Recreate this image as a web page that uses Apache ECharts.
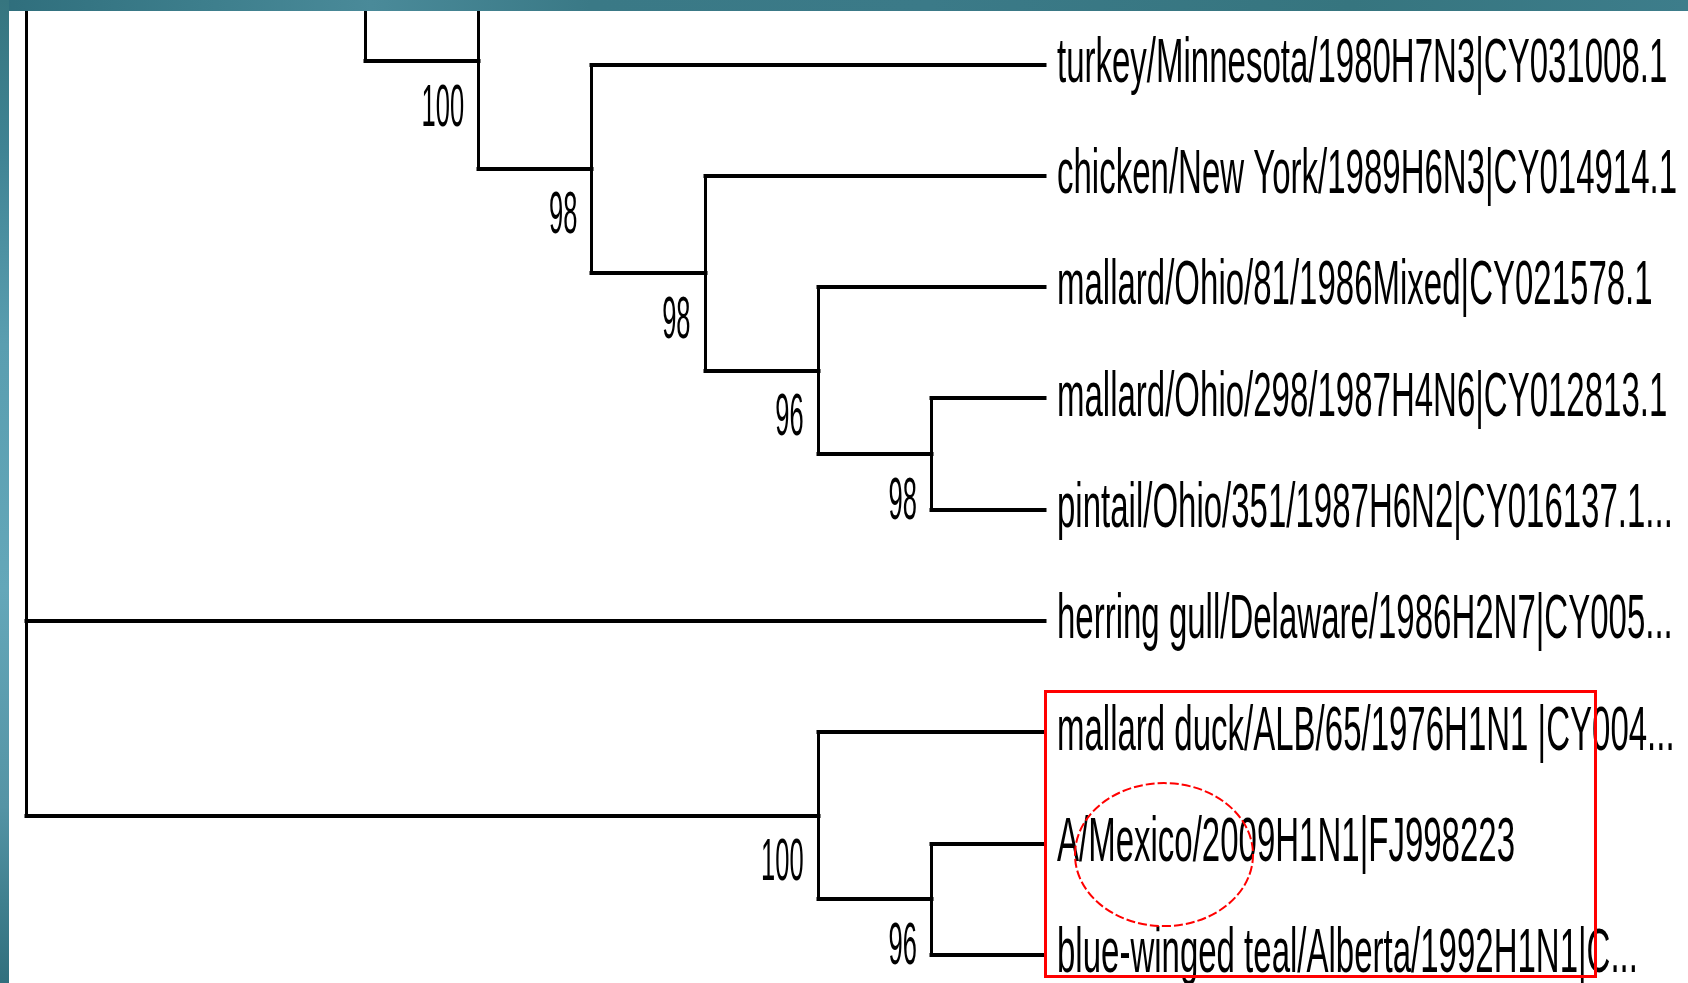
<!DOCTYPE html>
<html>
<head>
<meta charset="utf-8">
<title>HA phylogeny</title>
<script src="https://cdn.jsdelivr.net/npm/echarts@6/dist/echarts.min.js"></script>
<style>
  html, body { margin: 0; padding: 0; background: #ffffff; overflow: hidden; }
  #chart { width: 1688px; height: 983px; }
</style>
</head>
<body>
<div id="chart"></div>
<script>
// Tip labels, top to bottom. The first two tips lie above the plotted window and carry no label.
const tipLabels = [
  null,
  null,
  'turkey/Minnesota/1980H7N3|CY031008.1',
  'chicken/New York/1989H6N3|CY014914.1',
  'mallard/Ohio/81/1986Mixed|CY021578.1',
  'mallard/Ohio/298/1987H4N6|CY012813.1',
  'pintail/Ohio/351/1987H6N2|CY016137.1...',
  'herring gull/Delaware/1986H2N7|CY005...',
  'mallard duck/ALB/65/1976H1N1 |CY004...',
  'A/Mexico/2009H1N1|FJ998223',
  'blue-winged teal/Alberta/1992H1N1|C...'
];
const hiddenTips = 2;

// Internal clades: children (tip index or clade id) and bootstrap support in %
const cladeIds      = ['root', 'c1', 'c2', 'c3', 'c4', 'c5', 'c6', 'c7', 'c8'];
const cladeChildren = [['c1', 7, 'c7'], [0, 'c2'], [1, 'c3'], [2, 'c4'], [3, 'c5'], [4, 'c6'], [5, 6], [8, 'c8'], [9, 10]];
const cladeSupport  = [null, null, 100, 98, 98, 96, 98, 100, 96];

// H1N1 group framed in red, and the pandemic strain circled inside it
const framedTips = [8, 10];
const circledTip = 9;

// ---- cladogram layout: tips aligned at TIP_DEPTH, clades placed by height ----
const TIP_DEPTH = 9;
const placed = {};
function place(ref) {
  if (typeof ref === 'number') {
    return { row: ref - hiddenTips, height: 0, tip: ref };
  }
  if (placed[ref]) return placed[ref];
  const i = cladeIds.indexOf(ref);
  const kids = cladeChildren[i].map(place);
  const node = {
    id: ref,
    row: (kids[0].row + kids[kids.length - 1].row) / 2,
    height: 1 + Math.max.apply(null, kids.map(k => k.height)),
    kids: kids,
    support: cladeSupport[i]
  };
  placed[ref] = node;
  return node;
}
const root = place('root');
function depthOf(n) {
  if (n === root) return 0;
  return TIP_DEPTH - n.height;
}

const branchData = [];   // [x1, y1, x2, y2] in (depth, row) units
const supportData = [];  // [depth, row, value]
const tipData = [];      // [depth, row, tip index]
(function walk(n) {
  const d = depthOf(n);
  const first = n.kids[0], last = n.kids[n.kids.length - 1];
  branchData.push([d, first.row, d, last.row]);
  if (n.support != null) supportData.push([d, n.row, n.support]);
  n.kids.forEach(k => {
    const kd = k.kids ? depthOf(k) : TIP_DEPTH;
    branchData.push([d, k.row, kd, k.row]);
    if (k.kids) walk(k);
    else if (tipLabels[k.tip]) tipData.push([TIP_DEPTH, k.row, k.tip]);
  });
})(root);

const crispOdd = v => Math.round(v) + 0.5;
const crispEven = v => Math.round(v);
const RED = '#ff0000';

const chart = echarts.init(document.getElementById('chart'), null, { renderer: 'canvas' });

chart.setOption({
  backgroundColor: '#ffffff',
  animation: false,
  grid: { left: 25.5, right: 644, top: 64.6, bottom: 28.1, containLabel: false },
  xAxis: { type: 'value', min: 0, max: TIP_DEPTH, show: false },
  yAxis: { type: 'value', min: 0, max: tipLabels.length - hiddenTips - 1, inverse: true, show: false },
  series: [
    {
      name: 'branches',
      type: 'custom',
      coordinateSystem: 'cartesian2d',
      silent: true,
      z: 2,
      data: branchData,
      renderItem: function (params, api) {
        const a = api.coord([api.value(0), api.value(1)]);
        const b = api.coord([api.value(2), api.value(3)]);
        const vertical = api.value(0) === api.value(2);
        // vertical connectors are drawn slightly thinner than the branches
        const shape = vertical
          ? { x1: crispOdd(a[0]), y1: crispEven(a[1]), x2: crispOdd(b[0]), y2: crispEven(b[1]) }
          : { x1: crispOdd(a[0]), y1: crispEven(a[1]), x2: crispOdd(b[0]), y2: crispEven(b[1]) };
        return {
          type: 'line',
          shape: shape,
          style: { stroke: '#000000', lineWidth: vertical ? 3 : 4, lineCap: 'square' }
        };
      }
    },
    {
      name: 'support',
      type: 'custom',
      coordinateSystem: 'cartesian2d',
      silent: true,
      z: 3,
      data: supportData,
      renderItem: function (params, api) {
        const p = api.coord([api.value(0), api.value(1)]);
        return {
          type: 'text',
          x: p[0] - 14,
          y: p[1] + 48,
          scaleY: 2.35,
          style: {
            text: String(api.value(2)),
            fill: '#000000',
            fontFamily: '"Liberation Sans", Arial, sans-serif',
            fontSize: 25.5,
            align: 'right',
            verticalAlign: 'middle'
          }
        };
      }
    },
    {
      name: 'tips',
      type: 'custom',
      coordinateSystem: 'cartesian2d',
      silent: true,
      z: 3,
      data: tipData,
      renderItem: function (params, api) {
        const p = api.coord([api.value(0), api.value(1)]);
        return {
          type: 'text',
          x: p[0] + 13,
          y: p[1],
          scaleY: 1.9,
          style: {
            text: tipLabels[api.value(2)],
            fill: '#000000',
            fontFamily: '"Liberation Sans", Arial, sans-serif',
            fontSize: 33,
            align: 'left',
            verticalAlign: 'middle'
          }
        };
      }
    },
    {
      name: 'highlight',
      type: 'custom',
      coordinateSystem: 'cartesian2d',
      silent: true,
      z: 5,
      data: [[TIP_DEPTH, framedTips[0] - hiddenTips, framedTips[1] - hiddenTips, circledTip - hiddenTips]],
      renderItem: function (params, api) {
        const top = api.coord([api.value(0), api.value(1)]);
        const bottom = api.coord([api.value(0), api.value(2)]);
        const mid = api.coord([api.value(0), api.value(3)]);
        return {
          type: 'group',
          children: [
            {
              type: 'rect',
              shape: {
                x: crispOdd(top[0]) + 1,
                y: crispOdd(top[1] - 41),
                width: 550,
                height: Math.round(bottom[1] - top[1] + 62)
              },
              style: { fill: 'none', stroke: RED, lineWidth: 3 }
            },
            {
              type: 'ellipse',
              shape: { cx: mid[0] + 120, cy: mid[1] + 11, rx: 89, ry: 71.5 },
              style: { fill: 'none', stroke: RED, lineWidth: 2, lineDash: [9, 3] }
            }
          ]
        };
      }
    }
  ],
  graphic: [
    {
      type: 'rect',
      z: 100,
      left: 0,
      top: 0,
      shape: { width: 1688, height: 11 },
      style: {
        fill: {
          type: 'linear', x: 0, y: 0, x2: 1, y2: 0,
          colorStops: [
            { offset: 0, color: '#2f6e7c' },
            { offset: 0.12, color: '#3d7e8c' },
            { offset: 0.22, color: '#4a8a99' },
            { offset: 0.35, color: '#3a7986' },
            { offset: 0.55, color: '#3b7a88' },
            { offset: 0.8, color: '#36757f' },
            { offset: 1, color: '#3d7d8b' }
          ]
        }
      }
    },
    {
      type: 'rect',
      z: 100,
      left: 0,
      top: 0,
      shape: { width: 9, height: 983 },
      style: {
        fill: {
          type: 'linear', x: 0, y: 0, x2: 0, y2: 1,
          colorStops: [
            { offset: 0, color: '#36757f' },
            { offset: 0.15, color: '#3f8393' },
            { offset: 0.35, color: '#5a9eb0' },
            { offset: 0.6, color: '#64a7b9' },
            { offset: 0.82, color: '#5594a5' },
            { offset: 0.92, color: '#3f7f8e' },
            { offset: 1, color: '#316f7d' }
          ]
        }
      }
    }
  ]
});
</script>
</body>
</html>
